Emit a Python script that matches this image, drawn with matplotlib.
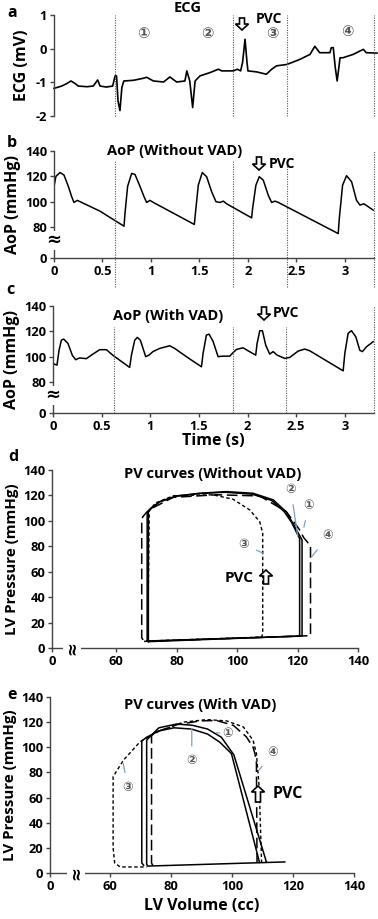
import matplotlib
matplotlib.use("Agg")
import matplotlib.pyplot as plt
from matplotlib.patches import Polygon

# ---------------- DATA ----------------
# Panel a: ECG
ecg_t = [0.0, 0.08, 0.13, 0.175, 0.22, 0.25, 0.34, 0.405, 0.45, 0.475, 0.54, 0.605, 0.63, 0.645, 0.66,
         0.68, 0.70, 0.72, 0.82, 0.92, 0.955, 1.025, 1.13, 1.195, 1.265, 1.35, 1.37, 1.40, 1.43, 1.455,
         1.505, 1.61, 1.695, 1.73, 1.85, 1.89, 1.925, 1.945, 1.97, 1.99, 2.00, 2.09, 2.19, 2.245, 2.295,
         2.40, 2.535, 2.64, 2.69, 2.74, 2.845, 2.86, 2.88, 2.90, 2.92, 2.95, 2.98, 3.085, 3.19, 3.22, 3.33]
ecg_v = [-1.18, -1.11, -1.04, -0.96, -1.04, -1.11, -1.13, -1.11, -0.93, -1.11, -1.14, -1.11, -0.81, -0.81, -1.55,
         -1.84, -1.15, -0.96, -0.94, -0.88, -0.85, -0.96, -0.99, -0.84, -0.99, -0.96, -0.66, -0.96, -1.75, -0.96,
         -0.81, -0.71, -0.61, -0.66, -0.66, -0.61, -0.66, -0.40, 0.28, -0.40, -0.66, -0.69, -0.76, -0.61, -0.51,
         -0.47, -0.32, -0.17, 0.07, -0.12, -0.12, 0.03, 0.03, -0.55, -0.96, -0.27, -0.27, -0.17, -0.02, -0.12, -0.13]

# Panel b: AoP without VAD
aop1_t = [0.0, 0.02, 0.062, 0.103, 0.148, 0.182, 0.206, 0.241, 0.268, 0.474, 0.722, 0.732, 0.759, 0.801,
          0.835, 0.887, 0.928, 0.955, 0.990, 1.024, 1.447, 1.460, 1.488, 1.529, 1.574, 1.625, 1.670, 1.711,
          1.746, 1.780, 2.038, 2.048, 2.082, 2.117, 2.158, 2.210, 2.244, 2.278, 2.313, 2.931, 2.942, 2.976,
          3.017, 3.069, 3.120, 3.155, 3.196, 3.241, 3.292]
aop1_p = [112, 120, 123, 121, 112, 104, 99.4, 101, 100, 92.5, 80.6, 90.7, 112, 122.3,
          121.5, 112, 104, 99.4, 101, 99.4, 82, 92, 113, 123, 119.7, 108, 100, 99.4,
          100.4, 98.3, 87.2, 94.6, 113, 119.7, 117, 105, 99.4, 100.4, 99.4, 74.8, 86.7, 113,
          120.5, 115.7, 101, 97.3, 98.3, 96, 93.3]

# Panel c: AoP with VAD
aop2_t = [0.0, 0.017, 0.041, 0.062, 0.086, 0.110, 0.154, 0.199, 0.233, 0.274, 0.343, 0.394, 0.480, 0.549,
          0.617, 0.788, 0.806, 0.840, 0.867, 0.898, 0.953, 0.987, 1.028, 1.097, 1.200, 1.251, 1.371, 1.526,
          1.543, 1.577, 1.604, 1.646, 1.697, 1.748, 1.817, 1.844, 1.886, 1.954, 2.006, 2.084, 2.098, 2.126,
          2.153, 2.187, 2.228, 2.263, 2.304, 2.383, 2.434, 2.520, 2.588, 2.640, 2.983, 3.000, 3.034, 3.068,
          3.113, 3.154, 3.181, 3.223, 3.291]
aop2_p = [94.6, 94, 93.3, 105, 113, 113.9, 110.4, 101, 97.6, 99, 98.4, 101.2, 105.5, 105.5,
          101, 91.5, 101, 113, 115.2, 113, 100, 101.2, 104, 106.5, 108.6, 106.5, 100, 92,
          102.6, 117, 117.8, 112, 100, 100.4, 100.4, 102.6, 105.7, 107, 104.6, 101.2, 110.4, 120.5,
          120.5, 109, 102, 104, 101.2, 98.6, 99.4, 104.4, 106, 104.6, 88.8, 102.6, 118.4, 120.5,
          115.7, 105, 104, 107.8, 111.8]

beat_marks = [0.63, 1.85, 2.4, 3.3]

# Panel d: PV loops without VAD
d1_v = [70.7, 121.5, 121.5, 118.5, 116.3, 112.0, 105.3, 96.5, 87.7, 80.0, 74.5, 71.8, 70.7, 70.7]
d1_p = [5.0, 9.5, 85, 98, 107, 116.5, 121.7, 123, 121.7, 119.6, 115.2, 110, 107.3, 5.0]
d2_v = [70.3, 120.7, 120.7, 118.0, 115.5, 111.5, 105.0, 96.0, 87.5, 80.0, 74.5, 71.5, 70.3, 70.3]
d2_p = [5.5, 9.3, 86, 99, 107.5, 116, 121, 122.5, 121.5, 119.4, 115, 110, 107, 5.5]
d3_v = [70.5, 108.2, 108.5, 108.5, 107.5, 104.2, 98.7, 92.0, 79.0, 73.0, 71.0, 70.5]
d3_p = [5.5, 8.6, 11.8, 90.3, 99.4, 108.6, 117, 120.5, 119.8, 114, 108, 5.5]
d4_v = [69.3, 124.3, 124.3, 122.0, 120.7, 116.3, 107.5, 93.2, 78.9, 72.0, 70.0, 68.8, 68.5, 68.5, 69.3]
d4_p = [5.2, 9.7, 80.3, 87, 92.9, 107.3, 119.6, 120.5, 118.5, 110, 106.5, 103, 100, 8, 5.2]

# Panel e: PV loops with VAD
e1_v = [117.3, 72.3, 72.0, 72.0, 72.5, 76.0, 81.8, 87.0, 92.0, 96.5, 100.6, 111.3]
e1_p = [8.8, 5.5, 7, 105.5, 107, 115.5, 118.5, 117.5, 114.5, 108, 94, 8.6]
e2_v = [109.0, 99.8, 96.0, 92.0, 86.7, 81.0, 76.0, 72.0, 70.4, 70.4, 71.0]
e2_p = [8.5, 95, 104, 110.5, 114.5, 115.5, 113, 108, 105, 8, 6.2]
e3_v = [109.7, 108.9, 108.0, 106.9, 103.7, 98.2, 91.7, 84.0, 75.3, 69.8, 64.4, 61.0, 61.0, 61.5, 63.3, 72.0]
e3_p = [8.0, 68.7, 95, 105.6, 116.2, 121, 122, 120, 112, 104.3, 89.8, 76.6, 20, 8, 4.8, 4.8]
e4_v = [74.0, 73.6, 73.6, 76.0, 82.0, 89.5, 94.9, 100.4, 104.7, 106.9, 107.5, 108.0, 108.2]
e4_p = [6.0, 8, 109.6, 113, 118, 121, 121.3, 117.5, 108.3, 100, 95, 88, 8]

time_ticks = [0, 0.5, 1, 1.5, 2, 2.5, 3]
ecg_ticks = [-2, -1, 0, 1]
aop_ticks = [80, 100, 120, 140]
pv_xticks = [60, 80, 100, 120, 140]
pv_yticks = [0, 20, 40, 60, 80, 100, 120, 140]
circ = ["\u2460", "\u2461", "\u2462", "\u2463"]

# ---------------- STYLE ----------------
FONT = "Open Sans"
plt.rcParams["font.family"] = [FONT, "DejaVu Sans"]
plt.rcParams["font.weight"] = "bold"
TICK_FS = 9.3
LAB_FS = 11.5
PV_LAB_FS = 10.9
TITLE_FS = 10.5
CFAM = ["DejaVu Sans", "Noto Sans CJK JP"]
LEAD = "#7d9fc9"
W, H = 378, 919

fig = plt.figure(figsize=(W / 100, H / 100), dpi=100)


def add_ax(left, right, top, bottom):
    return fig.add_axes([left / W, 1 - bottom / H, (right - left) / W, (bottom - top) / H])


def fx(x):
    return x / W


def fy(y):
    return 1 - y / H


def style(ax):
    ax.spines["top"].set_visible(False)
    ax.spines["right"].set_visible(False)
    for s in ax.spines.values():
        s.set_linewidth(1.0)
        s.set_color("#444444")
    ax.tick_params(direction="out", length=3, width=1, labelsize=TICK_FS, color="#444444", pad=2)
    for lab in ax.get_xticklabels() + ax.get_yticklabels():
        lab.set_fontweight("bold")


def hollow_arrow(cx, ytail, ytip, head_w=13, shaft_w=5, head_l=6):
    s = 1 if ytip > ytail else -1
    yb = ytip - s * head_l
    pts = [(cx - shaft_w / 2, ytail), (cx + shaft_w / 2, ytail), (cx + shaft_w / 2, yb),
           (cx + head_w / 2, yb), (cx, ytip), (cx - head_w / 2, yb), (cx - shaft_w / 2, yb)]
    fig.add_artist(Polygon([(fx(x), fy(y)) for x, y in pts], closed=True, transform=fig.transFigure,
                           fc="white", ec="black", lw=1.2, joinstyle="miter"))


def vlines(ax, spans):
    for t, (lo, hi) in zip(beat_marks, spans):
        ax.axvline(t, lo, hi, color="#555555", lw=0.8, ls=(0, (1, 1.2)), clip_on=False)


# ---- panel a ----
axa = add_ax(54, 374, 15, 116)
axa.plot(ecg_t, ecg_v, color="black", lw=1.2, clip_on=False)
axa.set_xlim(0, 3.3)
axa.set_ylim(-2, 1)
axa.set_yticks(ecg_ticks)
axa.set_yticklabels([str(v) for v in ecg_ticks])
axa.set_xticks([])
style(axa)
axa.spines["bottom"].set_visible(False)
vlines(axa, [(0, 1)] * 4)
axa.set_ylabel("ECG (mV)", fontsize=LAB_FS, fontweight="bold", labelpad=4)
fig.text(fx(7), fy(13), "a", fontsize=11.5, fontweight="bold", ha="left", va="center")
fig.text(fx(188), fy(8), "ECG", fontsize=TITLE_FS, fontweight="bold", ha="center", va="center")
for s, (x, y) in zip(circ, [(143, 33), (207, 33), (272, 33), (347, 31)]):
    fig.text(fx(x), fy(y), s, fontsize=10.5, color="#555555", ha="center", va="center", family=CFAM)
fig.text(fx(256), fy(19), "PVC", fontsize=10, fontweight="bold", ha="left", va="center")
hollow_arrow(242, 18, 30)

# broken y-axis helper
Y0_AOP = 55.5


def aop_axis(ax):
    ax.set_xlim(0, 3.3)
    ax.set_ylim(Y0_AOP, 140)
    ax.set_yticks([Y0_AOP] + aop_ticks)
    ax.set_yticklabels(["0"] + [str(v) for v in aop_ticks])
    ax.set_xticks(time_ticks)
    ax.set_xticklabels([("%g" % v) for v in time_ticks])
    style(ax)
    ax.text(0, 69.5, "\u2248", fontsize=13, ha="center", va="center", fontweight="bold",
            family="DejaVu Sans", bbox=dict(fc="white", ec="none", pad=0.2))
    ax.set_ylabel("AoP (mmHg)", fontsize=LAB_FS, fontweight="bold", labelpad=3)


# ---- panel b ----
axb = add_ax(54, 374, 151, 258)
axb.plot(aop1_t, aop1_p, color="black", lw=1.1)
aop_axis(axb)
vlines(axb, [(-0.27, 0.92)] * 3 + [(-0.27, 1.0)])
fig.text(fx(7), fy(143), "b", fontsize=11.5, fontweight="bold", ha="left", va="center")
fig.text(fx(175), fy(151), "AoP (Without VAD)", fontsize=TITLE_FS, fontweight="bold", ha="center", va="center")
fig.text(fx(269), fy(164), "PVC", fontsize=10, fontweight="bold", ha="left", va="center")
hollow_arrow(259, 157, 170)

# ---- panel c ----
axc = add_ax(53, 374, 306, 413)
axc.plot(aop2_t, aop2_p, color="black", lw=1.1)
aop_axis(axc)
vlines(axc, [(0, 0.8)] * 3 + [(0, 1.0)])
axc.set_xlabel("Time (s)", fontsize=LAB_FS, fontweight="bold", labelpad=0)
fig.text(fx(6), fy(290), "c", fontsize=11.5, fontweight="bold", ha="left", va="center")
fig.text(fx(168), fy(316), "AoP (With VAD)", fontsize=TITLE_FS, fontweight="bold", ha="center", va="center")
fig.text(fx(273), fy(313), "PVC", fontsize=10, fontweight="bold", ha="left", va="center")
hollow_arrow(264, 307, 320)


def pv_axis(ax, x0, brk):
    ax.set_xlim(x0, 140)
    ax.set_ylim(0, 140)
    ax.set_xticks([x0] + pv_xticks)
    ax.set_xticklabels(["0"] + [str(v) for v in pv_xticks])
    ax.set_yticks(pv_yticks)
    style(ax)
    ax.text(brk, 0, "\u2248", fontsize=12, rotation=90, ha="center", va="center", fontweight="bold",
            family="DejaVu Sans", bbox=dict(fc="white", ec="none", pad=0.1))
    ax.set_ylabel("LV Pressure (mmHg)", fontsize=PV_LAB_FS, fontweight="bold", labelpad=3)


SOLID = dict(color="black", lw=1.1, ls="-")
SHORT = dict(color="black", lw=1.0, ls=(0, (2.5, 1.8)))
LONG = dict(color="black", lw=1.1, ls=(0, (7, 3)))

# ---- panel d ----
axd = add_ax(52, 358, 470, 648)
axd.plot(d1_v, d1_p, **SOLID)
axd.plot(d2_v, d2_p, **SOLID)
axd.plot(d3_v, d3_p, **SHORT)
axd.plot(d4_v, d4_p, **LONG)
pv_axis(axd, 38.84, 45.4)
fig.text(fx(8), fy(457), "d", fontsize=11.5, fontweight="bold", ha="left", va="center")
fig.text(fx(213), fy(474), "PV curves (Without VAD)", fontsize=TITLE_FS, fontweight="bold", ha="center", va="center")
for s, lab, pt in [(circ[1], (117.8, 124.3), (120.1, 87.6)), (circ[0], (123.8, 111.7), (122.1, 95)),
                   (circ[3], (130.1, 88.1), (124.7, 71.8)), (circ[2], (102.1, 81.6), (108.7, 74.5))]:
    axd.annotate(s, xy=pt, xytext=lab, fontsize=9, color="#555555", ha="center", va="center", family=CFAM,
                 arrowprops=dict(arrowstyle="-", color=LEAD, lw=0.9, shrinkA=4, shrinkB=0))
fig.text(fx(225), fy(578), "PVC", fontsize=11, fontweight="bold", ha="left", va="center")
hollow_arrow(266, 584, 570)

# ---- panel e ----
axe = add_ax(50, 354, 697, 873)
axe.plot(e1_v, e1_p, **SOLID)
axe.plot(e2_v, e2_p, **SOLID)
axe.plot(e3_v, e3_p, **SHORT)
axe.plot(e4_v, e4_p, **LONG)
pv_axis(axe, 40.3, 48.8)
axe.set_xlabel("LV Volume (cc)", fontsize=LAB_FS, fontweight="bold", labelpad=4)
fig.text(fx(7), fy(695), "e", fontsize=11.5, fontweight="bold", ha="left", va="center")
fig.text(fx(200), fy(705), "PV curves (With VAD)", fontsize=TITLE_FS, fontweight="bold", ha="center", va="center")
for s, lab, pt in [(circ[0], (98.6, 111.1), (94.9, 111.6)), (circ[1], (86.8, 89.3), (86.8, 115.1)),
                   (circ[2], (65.8, 68.2), (64.3, 87.3)), (circ[3], (113.3, 95.7), (108.9, 82))]:
    axe.annotate(s, xy=pt, xytext=lab, fontsize=9, color="#555555", ha="center", va="center", family=CFAM,
                 arrowprops=dict(arrowstyle="-", color=LEAD, lw=0.9, shrinkA=4, shrinkB=0))
fig.text(fx(273), fy(794), "PVC", fontsize=11.5, fontweight="bold", ha="left", va="center")
hollow_arrow(258, 802, 786)

fig.savefig("out.png", dpi=100)
